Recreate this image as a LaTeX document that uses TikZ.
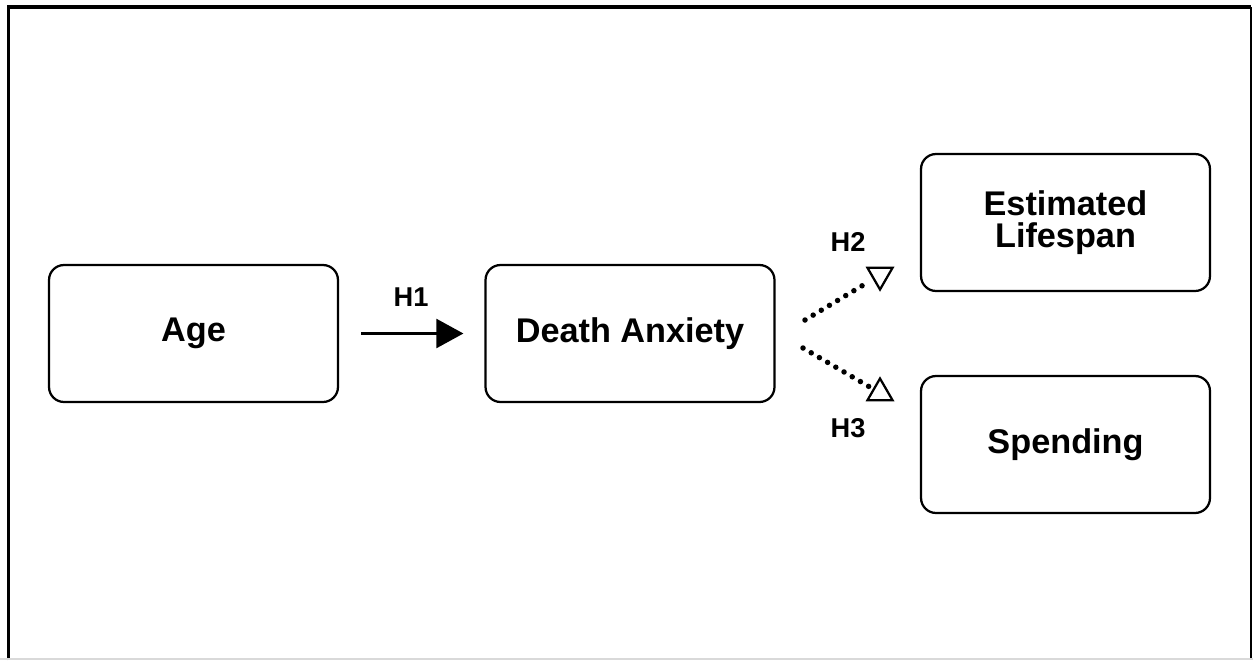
\documentclass[tikz,border=0pt]{standalone}
\usepackage{fontspec}
\setmainfont{Liberation Sans}
\usetikzlibrary{arrows.meta,shapes.geometric}
\begin{document}
\begin{tikzpicture}[x=0.02cm,y=-0.02cm,
 varbox/.style={draw,line width=0.045cm,rounded corners=0.3cm,minimum width=5.78cm,minimum height=2.74cm,align=center,font=\fontsize{19.5}{18}\selectfont\bfseries},
 hlabel/.style={font=\fontsize{15.5}{16}\selectfont\bfseries},
 tri/.style={draw,line width=0.045cm,regular polygon,regular polygon sides=3,minimum size=0.58cm,inner sep=0pt},
 dotline/.style={line width=0.11cm,line cap=round,dash pattern=on 0pt off 0.19cm}]
 \useasboundingbox (0,0) rectangle (1253,660);
 \draw[line width=0.07cm](8.5,660)--(8.5,7)--(1251,7);
 \draw[line width=0.04cm](1251,7)--(1251,660);
 \draw[black!15,line width=0.03cm](0,659)--(1253,659);
 \node[varbox] (age) at (193.5,333.5) {Age};
 \node[varbox] (anx) at (630,333.5) {Death Anxiety};
 \node[varbox] (life) at (1065.5,222.5) {Estimated\\Lifespan};
 \node[varbox] (spend) at (1065.5,444.5) {Spending};
 \draw[line width=0.045cm,-{Triangle[length=0.54cm,width=0.58cm]},shorten <=0.44cm,shorten >=0.42cm](age)--(anx);
 \node[hlabel] (h1) at (411,297) {H1};
 \node[hlabel] (h2) at (848,242) {H2};
 \node[hlabel] (h3) at (848,428) {H3};
 \node[tri,shape border rotate=180] (t2) at (880,275) {};
 \node[tri] (t3) at (880,393) {};
 \coordinate (s2) at (805,320);
 \coordinate (s3) at (803,348);
 \draw[dotline,shorten >=0.08cm](s2)--(t2);
 \draw[dotline,shorten >=0.08cm](s3)--(t3);
\end{tikzpicture}
\end{document}
